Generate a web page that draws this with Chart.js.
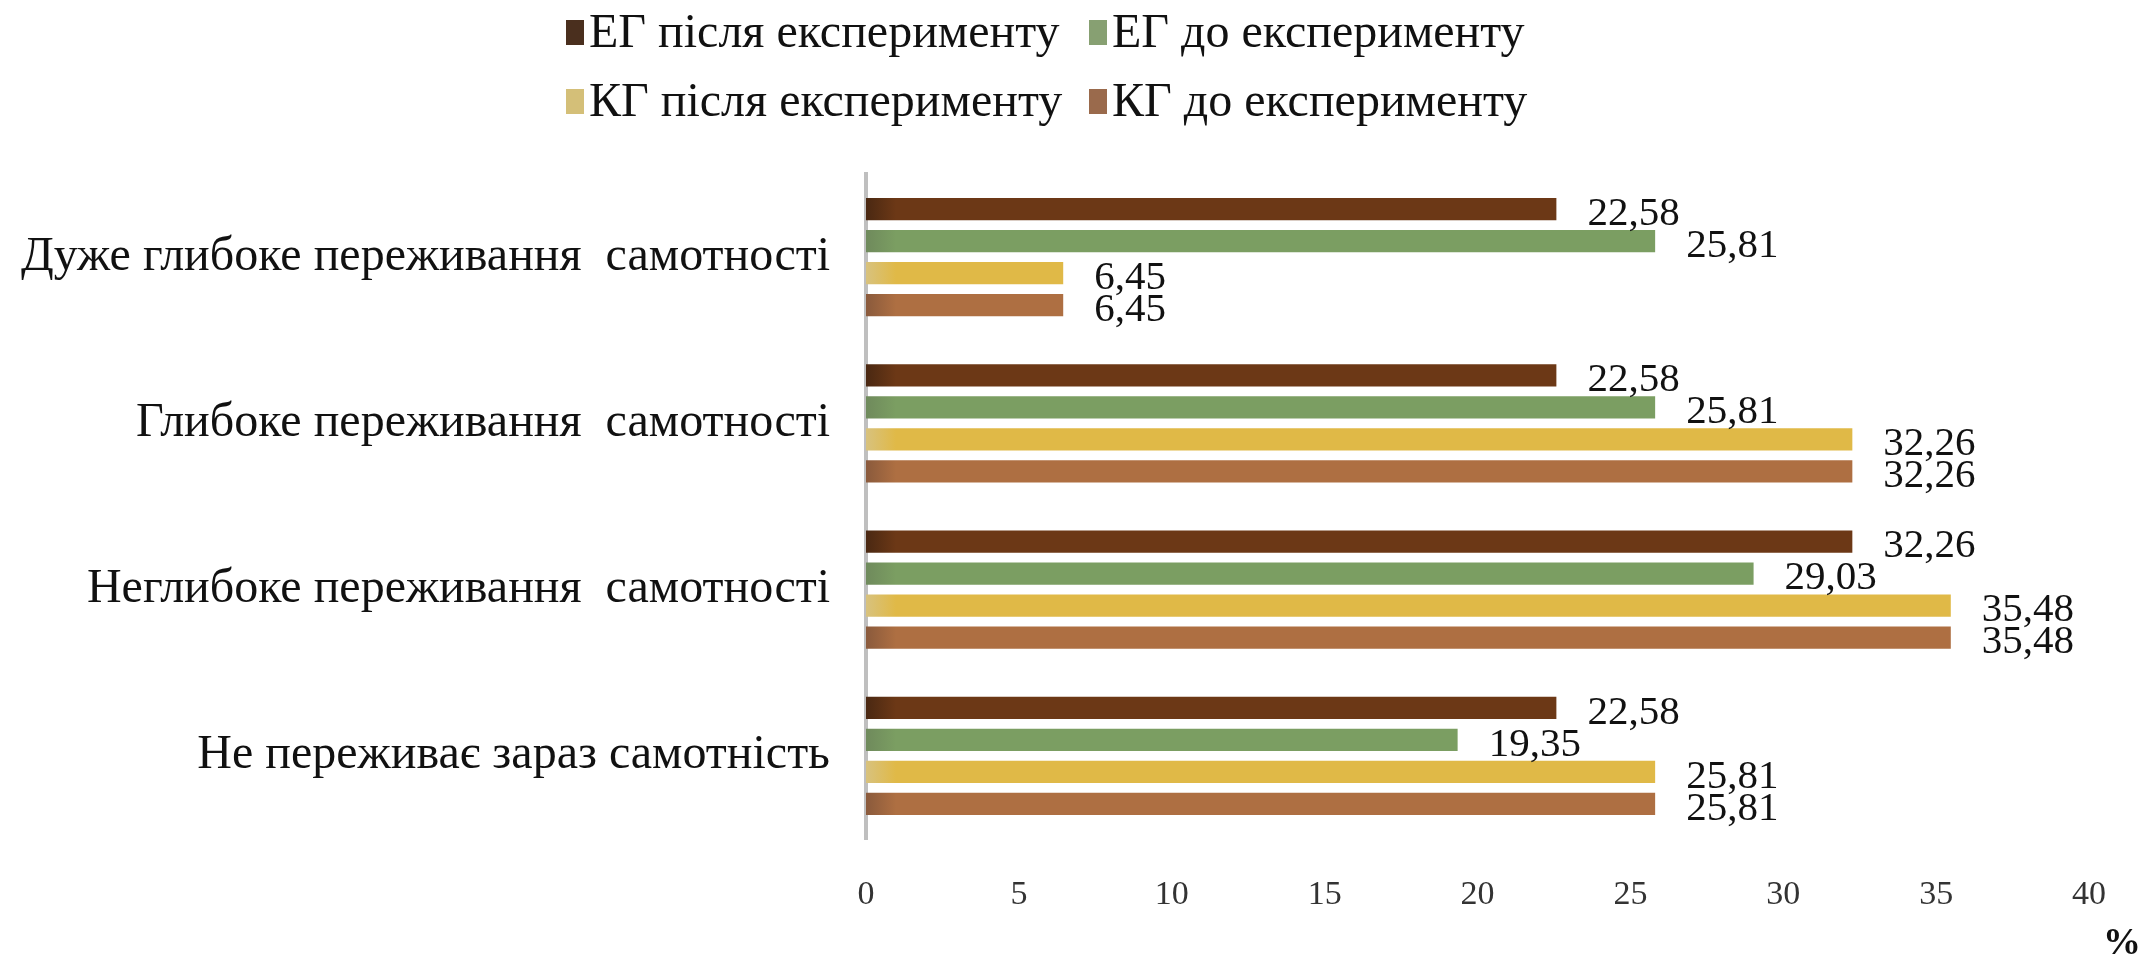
<!DOCTYPE html>
<html>
<head>
<meta charset="utf-8">
<script src="https://cdn.jsdelivr.net/npm/chart.js@4/dist/chart.umd.min.js"></script>
<style>
  html, body { margin: 0; padding: 0; background: #fff; }
  #wrap { width: 2148px; height: 963px; }
</style>
</head>
<body>
<div id="wrap"><canvas id="lonelyChart" width="2148" height="963"></canvas></div>
<script>
const categories = [
  'Дуже глибоке переживання  самотності',
  'Глибоке переживання  самотності',
  'Неглибоке переживання  самотності',
  'Не переживає зараз самотність'
];
const seriesNames = ['ЕГ після експерименту', 'ЕГ до експерименту', 'КГ після експерименту', 'КГ до експерименту'];
const egAfter = [22.58, 22.58, 32.26, 22.58];
const egBefore = [25.81, 25.81, 29.03, 19.35];
const kgAfter = [6.45, 32.26, 35.48, 25.81];
const kgBefore = [6.45, 32.26, 35.48, 25.81];
const xTicks = [0, 5, 10, 15, 20, 25, 30, 35, 40];

const barColors = ['#6c3816', '#7b9e62', '#e0b947', '#ae6f42'];
const edgeColors = ['#4a2812', '#6f8a5c', '#d8c27e', '#8a5a3c'];
const legendColors = ['#4a2f1e', '#87a072', '#d4bf78', '#9a6a4c'];
const serif = '"Liberation Serif", "Times New Roman", serif';

function barFill(i) {
  return function (context) {
    const area = context.chart.chartArea;
    if (!area) return barColors[i];
    const g = context.chart.ctx.createLinearGradient(area.left, 0, area.left + 30, 0);
    g.addColorStop(0, edgeColors[i]);
    g.addColorStop(1, barColors[i]);
    return g;
  };
}

document.addEventListener('DOMContentLoaded', function () {
  const ctx = document.getElementById('lonelyChart').getContext('2d');

  // value labels, legend in 2x2 and the "%" unit
  const extras = {
    id: 'extras',
    afterDatasetsDraw(chart) {
      const c = chart.ctx;
      c.save();
      c.font = '41px ' + serif;
      c.fillStyle = '#111';
      c.textAlign = 'left';
      c.textBaseline = 'middle';
      chart.data.datasets.forEach((ds, i) => {
        chart.getDatasetMeta(i).data.forEach((bar, j) => {
          const txt = ds.data[j].toFixed(2).replace('.', ',');
          c.fillText(txt, bar.x + 31, bar.y + 5);
        });
      });
      c.restore();
    },
    afterDraw(chart) {
      const c = chart.ctx;
      c.save();
      c.font = '48px ' + serif;
      c.textBaseline = 'middle';
      const cols = [566, 1089];
      const rows = [32, 101];
      seriesNames.forEach((name, i) => {
        const x = cols[i % 2];
        const y = rows[Math.floor(i / 2)];
        c.fillStyle = legendColors[i];
        c.fillRect(x, y - 12, 18, 25);
        c.fillStyle = '#111';
        c.fillText(name, x + 23, y + 2);
      });
      c.font = 'bold 38px ' + serif;
      c.textAlign = 'center';
      c.fillText('%', 2122, 944);
      c.restore();
    }
  };

  new Chart(ctx, {
    type: 'bar',
    data: {
      labels: categories,
      datasets: seriesNames.map((name, i) => ({
        label: name,
        data: [egAfter, egBefore, kgAfter, kgBefore][i],
        backgroundColor: barFill(i)
      }))
    },
    options: {
      indexAxis: 'y',
      responsive: false,
      animation: false,
      categoryPercentage: 0.77,
      barPercentage: 0.69,
      layout: {
        padding: { top: 174, right: 59, bottom: 0, left: 0 }
      },
      scales: {
        x: {
          min: 0,
          max: 40,
          afterBuildTicks: (scale) => { scale.ticks = xTicks.map(v => ({ value: v })); },
          afterFit: (scale) => { scale.height = 124; },
          grid: { display: false, drawTicks: false },
          border: { display: false },
          ticks: {
            color: '#333',
            padding: 36,
            font: { family: serif, size: 34 }
          }
        },
        y: {
          afterFit: (scale) => { scale.width = 866; },
          grid: { display: false, drawTicks: false },
          border: { display: true, color: '#bfbfbf', width: 4 },
          ticks: {
            color: '#111',
            padding: 36,
            font: { family: serif, size: 48 }
          }
        }
      },
      plugins: {
        legend: { display: false },
        tooltip: { enabled: false }
      }
    },
    plugins: [extras]
  });
});
</script>
</body>
</html>
